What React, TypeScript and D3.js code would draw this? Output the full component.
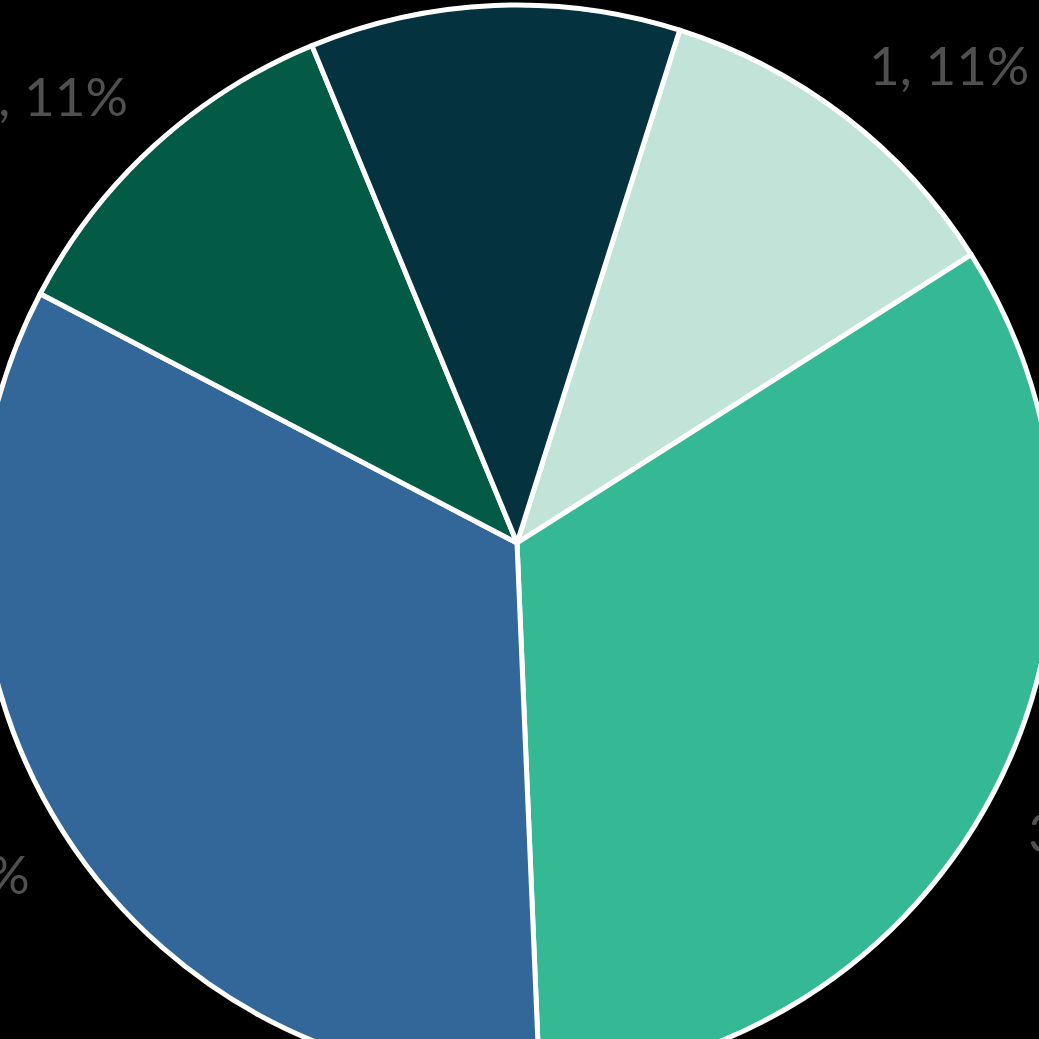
import React from "react";
import * as d3 from "d3";

const categories = ["A", "B", "C", "D", "E"];
const values = [1, 3, 3, 1, 1];
const colors = ["#c2e3d8", "#35b995", "#336699", "#035a45", "#04333f"];

const W = 1039;
const H = 1039;
const cx = 517;
const cy = 543;
const R = 538;
const labelR = 577;
const labelShift = 21;
const startDeg = 17.6;

export default function App() {
  const total = d3.sum(values);
  const pie = d3
    .pie<number>()
    .sort(null)
    .value((d) => d)
    .startAngle((startDeg * Math.PI) / 180)
    .endAngle((startDeg * Math.PI) / 180 + 2 * Math.PI);
  const arcs = pie(values);
  const arc = d3.arc<d3.PieArcDatum<number>>().innerRadius(0).outerRadius(R);
  const pct = d3.format(".0%");
  return (
    <svg
      width={W}
      height={H}
      style={{ position: "absolute", left: 0, top: 0, background: "#000" }}
    >
      <rect x={0} y={0} width={W} height={H} fill="#000" />
      <g transform={`translate(${cx},${cy})`}>
        {arcs.map((a, i) => (
          <path
            key={categories[i]}
            d={arc(a) || ""}
            fill={colors[i]}
            stroke="#fff"
            strokeWidth={5}
            strokeLinejoin="round"
          />
        ))}
        {arcs.map((a, i) => {
          const mid = (a.startAngle + a.endAngle) / 2;
          const c = Math.cos(mid);
          const x = labelR * Math.sin(mid);
          const y = -labelR * c - Math.sign(c) * labelShift;
          const anchor = Math.sin(mid) >= 0 ? "start" : "end";
          return (
            <text
              key={"l" + categories[i]}
              x={x}
              y={y}
              textAnchor={anchor}
              dominantBaseline="central"
              fill="#505050"
              fontFamily="Lato, 'Open Sans', sans-serif"
              fontSize={53}
            >
              {`${values[i]}, ${pct(values[i] / total)}`}
            </text>
          );
        })}
      </g>
    </svg>
  );
}
